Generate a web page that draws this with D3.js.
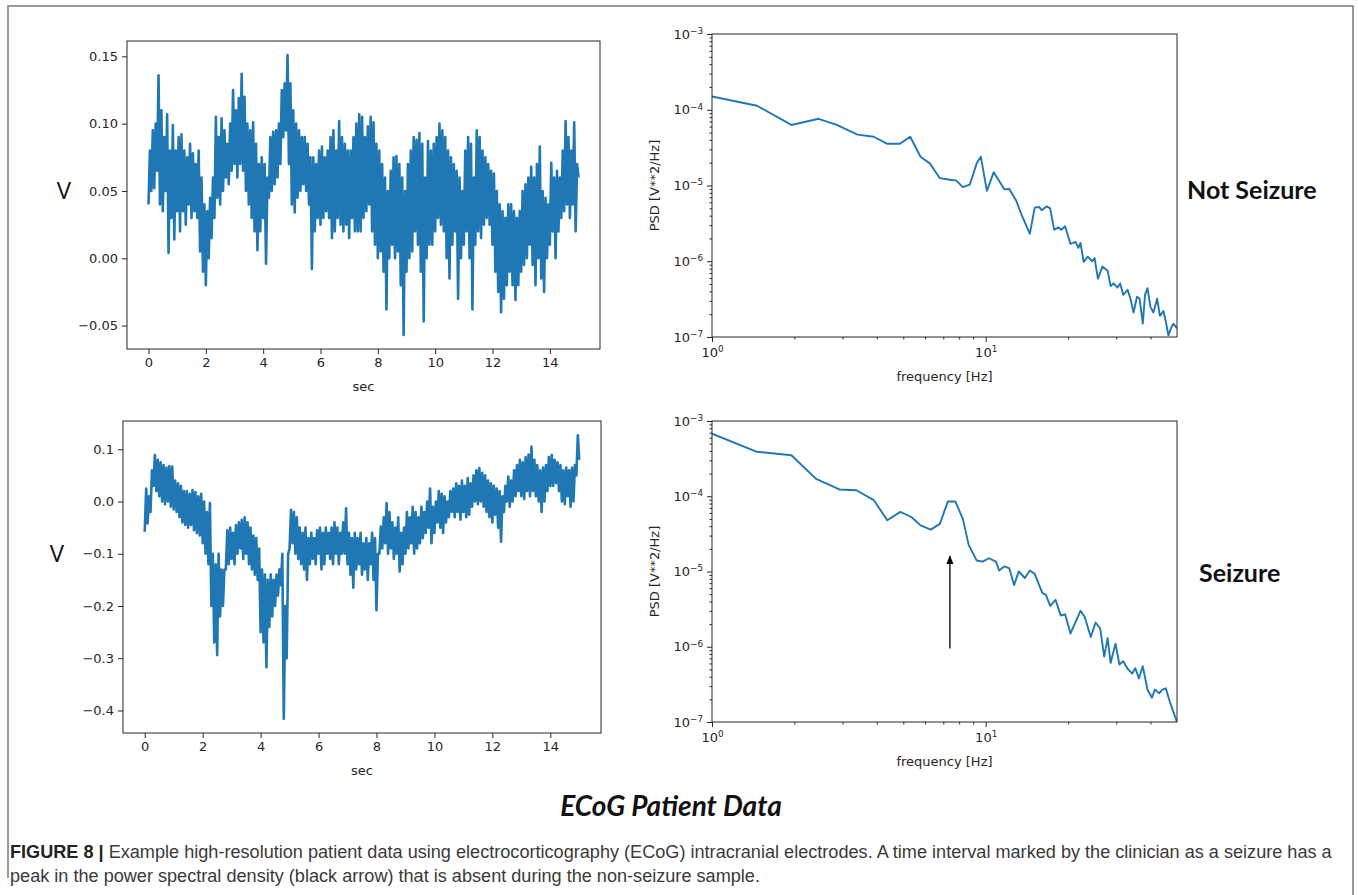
<!DOCTYPE html>
<html>
<head>
<meta charset="utf-8">
<script src="https://cdn.jsdelivr.net/npm/d3@7"></script>
<style>
  body { margin: 0; background: #fff; }
</style>
</head>
<body>
<script>
// traced signal: alternating low / high samples, 20 per second
var sampleRate = 20;

var notSeizureVolts = [
  .04,.08,.05,.095,.052,.1,.065,.136,.04,.11,.035,.09,.05,.107,.004,.08,.03,.099,.014,.08,
  .035,.09,.02,.092,.035,.08,.025,.075,.04,.085,.03,.078,.035,.07,.03,.08,.005,.06,-.01,.04,
  -.02,.035,0,.045,.015,.06,.03,.105,.045,.09,.04,.104,.05,.095,.06,.085,.055,.1,.065,.125,
  .07,.11,.06,.119,.07,.137,.065,.12,.05,.1,.04,.095,.03,.101,.02,.085,.006,.07,.02,.075,
  .03,.07,-.004,.06,.045,.09,.05,.094,.055,.095,.06,.1,.07,.125,.09,.13,.095,.151,.07,.13,
  .04,.11,.034,.1,.045,.095,.05,.09,.055,.09,.05,.085,.04,.075,-.008,.075,.02,.07,.03,.08,
  .025,.083,.03,.075,.035,.08,.03,.09,.015,.095,.02,.08,.03,.102,.025,.09,.02,.085,.025,.08,
  .015,.08,.03,.09,.02,.1,.02,.107,.02,.105,.03,.09,.035,.098,.04,.105,.02,.101,.01,.085,
  0,.08,.005,.07,-.01,.06,-.038,.05,0,.065,.01,.075,0,.076,.005,.07,-.02,.06,-.057,.05,
  -.01,.07,0,.08,.005,.09,.02,.088,.01,.093,-.01,.085,-.047,.06,0,.087,.01,.08,.01,.085,
  .02,.09,.03,.1,.025,.095,.02,.09,0,.08,-.015,.075,.01,.07,.02,.065,-.03,.06,0,.05,
  .01,.08,.02,.09,0,.085,-.038,.06,.01,.095,.02,.09,.015,.08,.025,.075,.03,.07,.025,.065,
  .01,.063,-.01,.05,-.025,.04,-.04,.035,-.03,.03,-.02,.04,-.01,.04,-.02,.035,-.031,.03,-.02,.035,
  -.01,.05,-.005,.055,0,.06,.01,.068,-.005,.06,-.02,.07,0,.083,-.015,.05,-.025,.045,0,.04,
  .01,.071,.02,.06,0,.065,.02,.06,.03,.08,.035,.102,.04,.09,.03,.08,.04,.101,.02,.07,
  .06
];

var seizureVolts = [
  -.058,.025,-.042,.01,-.02,.06,.03,.089,.02,.08,.01,.075,0,.07,-.005,.065,0,.068,-.01,.067,
  -.015,.04,-.02,.035,-.03,.03,-.04,.02,-.045,.02,-.05,.015,-.045,.022,-.055,.018,-.06,.01,-.065,.015,
  -.08,0,-.1,-.02,-.12,-.003,-.2,-.1,-.27,-.12,-.294,-.1,-.22,-.13,-.2,-.13,-.13,-.055,-.12,-.05,
  -.11,-.06,-.12,-.045,-.1,-.04,-.09,-.035,-.11,-.03,-.1,-.04,-.12,-.05,-.13,-.065,-.14,-.07,-.15,-.09,
  -.25,-.13,-.27,-.14,-.317,-.15,-.24,-.14,-.22,-.15,-.2,-.14,-.18,-.13,-.16,-.1,-.416,-.2,-.3,-.1,
  -.09,-.016,-.08,-.02,-.1,-.03,-.11,-.05,-.12,-.06,-.13,-.05,-.15,-.07,-.12,-.06,-.11,-.07,-.12,-.055,
  -.1,-.05,-.13,-.06,-.12,-.05,-.1,-.06,-.11,-.05,-.12,-.04,-.1,-.05,-.12,-.06,-.1,-.04,-.1,-.013,
  -.12,-.06,-.14,-.07,-.165,-.06,-.13,-.07,-.12,-.06,-.14,-.08,-.13,-.07,-.15,-.08,-.12,-.06,-.15,-.07,
  -.208,-.1,-.1,-.048,-.09,-.03,-.08,-.003,-.1,-.02,-.09,-.04,-.11,-.05,-.1,-.03,-.134,-.06,-.12,-.05,
  -.1,-.02,-.09,-.03,-.08,-.01,-.1,-.02,-.09,-.03,-.08,-.01,-.07,-.02,-.06,0,-.05,.025,-.08,-.01,
  -.06,0,-.04,.02,-.05,.015,-.06,.01,-.04,0,-.03,.02,-.02,.025,-.03,.035,-.02,.03,-.035,.04,
  -.02,.03,-.03,.045,-.025,.035,-.01,.05,0,.06,-.005,.064,0,.055,-.01,.05,-.02,.04,-.03,.035,
  -.04,.03,-.025,.025,-.05,.02,-.077,.01,-.02,.03,0,.048,-.01,.04,0,.06,.01,.07,.02,.08,
  .01,.075,.005,.085,.02,.09,.01,.105,.02,.08,.01,.07,0,.06,-.02,.065,0,.07,.02,.085,
  .03,.089,.03,.08,.035,.075,.02,.07,0,.06,-.005,.065,.01,.06,-.01,.065,0,.07,.05,.127,
  .08
];

var notSeizureFreq = [1,1.46,1.95,2.45,2.86,3.4,3.9,4.37,4.86,5.3,5.78,6.25,6.8,7.5,7.8,8.25,8.75,9.27,9.6,10.1,
  10.7,11.7,12.2,12.9,13.6,14.5,15.1,15.7,16.0,16.7,17.2,17.8,18.4,18.9,19.5,20.4,21.3,21.8,22.2,22.8,
  23.6,24.5,25.0,25.7,26.7,27.9,28.6,29.3,30.3,31.0,31.8,33,33.8,34.7,35.7,36.5,37.5,38.2,39,40,
  41,42.3,43.3,44.6,45.5,46.5,47.7,48.5,50];
var notSeizurePsd = [1.5e-4,1.13e-4,6.3e-5,7.6e-5,6.3e-5,4.7e-5,4.4e-5,3.55e-5,3.55e-5,4.4e-5,2.4e-5,1.96e-5,1.25e-5,1.18e-5,1.17e-5,9.5e-6,1.03e-5,1.96e-5,2.4e-5,8.5e-6,
  1.5e-5,8.9e-6,9e-6,6.4e-6,3.9e-6,2.3e-6,5.1e-6,5.2e-6,4.7e-6,5.3e-6,5e-6,2.6e-6,2.8e-6,2.6e-6,2.9e-6,1.7e-6,1.8e-6,1.5e-6,1.75e-6,9.8e-7,
  1.15e-6,1.0e-6,1.1e-6,5.9e-7,8.5e-7,7.5e-7,4.7e-7,5.1e-7,4.5e-7,5.1e-7,3.6e-7,4.2e-7,3.2e-7,2.1e-7,3.4e-7,3.2e-7,1.5e-7,3.6e-7,4.4e-7,2.5e-7,
  2.1e-7,3.2e-7,1.9e-7,2.2e-7,1.6e-7,1.05e-7,1.35e-7,1.5e-7,1.3e-7];

var seizureFreq = [1,1.46,1.95,2.4,2.92,3.37,3.9,4.37,4.88,5.35,5.78,6.3,6.8,7.27,7.75,8.25,8.67,9.27,9.75,10.27,
  10.9,11.2,11.7,12.2,12.7,13.2,13.9,14.5,15.1,16.1,16.6,17.2,18.0,18.8,19.5,20.4,22.2,23.0,24.2,25.2,
  26.2,27.1,27.9,28.6,29.8,30.8,31.8,33,34.3,35.2,36.3,37.5,39,40.5,41.5,43,44.2,45.5,47,48.2,50];
var seizurePsd = [6.8e-4,3.9e-4,3.5e-4,1.7e-4,1.23e-4,1.2e-4,8.9e-5,4.8e-5,6.2e-5,5.3e-5,4.1e-5,3.6e-5,4.3e-5,8.5e-5,8.5e-5,5.0e-5,2.24e-5,1.4e-5,1.35e-5,1.5e-5,
  1.35e-5,1.03e-5,1.17e-5,1.1e-5,6.6e-6,1.0e-5,8.2e-6,1.03e-5,9.3e-6,5.2e-6,4.9e-6,3.5e-6,4.2e-6,2.6e-6,2.7e-6,1.5e-6,3.0e-6,2.5e-6,1.35e-6,2.1e-6,
  1.75e-6,7.4e-7,1.3e-6,6.1e-7,1.1e-6,5.8e-7,6.4e-7,5.1e-7,4.4e-7,5.2e-7,3.8e-7,5.5e-7,2.7e-7,2.1e-7,2.7e-7,2.4e-7,2.7e-7,2.8e-7,1.9e-7,1.45e-7,
  1.0e-7];

var timeTicks = [0, 2, 4, 6, 8, 10, 12, 14];
var notSeizureVTicks = [-0.05, 0, 0.05, 0.10, 0.15];
var seizureVTicks = [-0.4, -0.3, -0.2, -0.1, 0, 0.1];
var freqRange = [1, 50];
var psdRange = [1e-7, 1e-3];
var freqTicks = [1, 10];
var freqMinor = [2, 3, 4, 5, 6, 7, 8, 9, 20, 30, 40];
var psdTicks = [1e-7, 1e-6, 1e-5, 1e-4, 1e-3];
var minorMult = [2, 3, 4, 5, 6, 7, 8, 9];
// arrow pointing at the seizure peak
var arrowFreq = 7.4, arrowFrom = 9.5e-7, arrowTo = 1.6e-5;

var blue = "#1f77b4";
var ink = "#262626";

var svg = d3.select("body").append("svg")
            .attr("width", 1358).attr("height", 895)
            .attr("font-family", "DejaVu Sans");

// outer figure border
svg.append("path")
   .attr("d", "M8,878V6H1353V895")
   .attr("fill", "none").attr("stroke", "#7a7a7a").attr("stroke-width", 1.5);

function pad(ext) {
  var m = (ext[1] - ext[0]) * 0.05;
  return [ext[0] - m, ext[1] + m];
}

function styleAxis(g) {
  g.attr("font-family", null).attr("font-size", null);
  g.select(".domain").remove();
  g.selectAll(".tick line").attr("stroke", ink);
  g.selectAll(".tick text").attr("fill", ink).attr("font-size", 13);
}

function frame(g, box) {
  g.append("rect")
   .attr("x", box.x0).attr("y", box.y0)
   .attr("width", box.x1 - box.x0).attr("height", box.y1 - box.y0)
   .attr("fill", "none").attr("stroke", ink).attr("stroke-width", 1);
}

function timePanel(box, volts, vTicks, vFmt) {
  var times = volts.map(function(d, i){ return i / sampleRate; });
  var x = d3.scaleLinear().domain(pad(d3.extent(times))).range([box.x0, box.x1]);
  var y = d3.scaleLinear().domain(pad(d3.extent(volts))).range([box.y1, box.y0]);
  var g = svg.append("g");

  var line = d3.line()
               .x(function(d, i){ return x(times[i]); })
               .y(function(d){ return y(d); });

  g.append("path")
   .attr("fill", "none")
   .attr("stroke", blue)
   .attr("stroke-width", 2.6)
   .attr("stroke-linejoin", "round")
   .attr("d", line(volts));

  frame(g, box);

  g.append("g").attr("transform", "translate(0," + box.y1 + ")")
   .call(d3.axisBottom(x).tickValues(timeTicks).tickSize(5).tickPadding(4).tickFormat(d3.format("d")))
   .call(styleAxis);
  g.append("g").attr("transform", "translate(" + box.x0 + ",0)")
   .call(d3.axisLeft(y).tickValues(vTicks).tickSize(5).tickPadding(4).tickFormat(d3.format(vFmt)))
   .call(styleAxis);

  g.append("text").attr("x", (box.x0 + box.x1) / 2).attr("y", box.y1 + 42)
   .attr("text-anchor", "middle").attr("font-size", 13).attr("fill", ink).text("sec");
  return { g: g, x: x, y: y };
}

function powerLabels(g) {
  g.selectAll(".tick text").each(function(d){
    var e = Math.round(Math.log10(d));
    var t = d3.select(this).text("10");
    t.append("tspan").attr("dy", "-0.55em").attr("font-size", "0.68em")
     .text(e < 0 ? "\u2212" + (-e) : String(e));
  });
}

function psdPanel(box, freq, psd, id) {
  var x = d3.scaleLog().domain(freqRange).range([box.x0, box.x1]);
  var y = d3.scaleLog().domain(psdRange).range([box.y1, box.y0]);
  var g = svg.append("g");

  g.append("clipPath").attr("id", id).append("rect")
   .attr("x", box.x0).attr("y", box.y0)
   .attr("width", box.x1 - box.x0).attr("height", box.y1 - box.y0);

  var line = d3.line()
               .x(function(d, i){ return x(freq[i]); })
               .y(function(d){ return y(d); });

  g.append("path")
   .attr("clip-path", "url(#" + id + ")")
   .attr("fill", "none")
   .attr("stroke", blue)
   .attr("stroke-width", 1.9)
   .attr("stroke-linejoin", "round")
   .attr("d", line(psd));

  frame(g, box);

  var yMinor = [];
  psdTicks.slice(0, -1).forEach(function(p){
    minorMult.forEach(function(m){ yMinor.push(p * m); });
  });

  g.append("g").attr("transform", "translate(0," + box.y1 + ")")
   .call(d3.axisBottom(x).tickValues(freqMinor).tickSize(2.5).tickFormat(""))
   .call(styleAxis);
  g.append("g").attr("transform", "translate(" + box.x0 + ",0)")
   .call(d3.axisLeft(y).tickValues(yMinor).tickSize(2.5).tickFormat(""))
   .call(styleAxis);

  g.append("g").attr("transform", "translate(0," + box.y1 + ")")
   .call(d3.axisBottom(x).tickValues(freqTicks).tickSize(5).tickPadding(6))
   .call(styleAxis).call(powerLabels);
  g.append("g").attr("transform", "translate(" + box.x0 + ",0)")
   .call(d3.axisLeft(y).tickValues(psdTicks).tickSize(5).tickPadding(4))
   .call(styleAxis).call(powerLabels);

  g.append("text").attr("x", (box.x0 + box.x1) / 2).attr("y", box.y1 + 44)
   .attr("text-anchor", "middle").attr("font-size", 13).attr("fill", ink).text("frequency [Hz]");
  g.append("text")
   .attr("transform", "translate(" + (box.x0 - 53) + "," + ((box.y0 + box.y1) / 2) + ") rotate(-90)")
   .attr("text-anchor", "middle").attr("font-size", 13).attr("fill", ink).text("PSD [V**2/Hz]");
  return { g: g, x: x, y: y };
}

var topTime = timePanel({ x0: 127, x1: 600, y0: 41, y1: 349 }, notSeizureVolts, notSeizureVTicks, ".2f");
var botTime = timePanel({ x0: 123, x1: 601, y0: 421, y1: 733 }, seizureVolts, seizureVTicks, ".1f");
var topPsd = psdPanel({ x0: 712, x1: 1177, y0: 34, y1: 337 }, notSeizureFreq, notSeizurePsd, "clipTop");
var botPsd = psdPanel({ x0: 712, x1: 1177, y0: 421, y1: 722 }, seizureFreq, seizurePsd, "clipBot");

// "V" axis names
svg.append("text").attr("x", 64).attr("y", 199).attr("text-anchor", "middle")
   .attr("font-family", "Open Sans").attr("font-size", 24).attr("fill", "#111").text("V");
svg.append("text").attr("x", 57).attr("y", 562).attr("text-anchor", "middle")
   .attr("font-family", "Open Sans").attr("font-size", 24).attr("fill", "#111").text("V");

// arrow at the seizure peak
svg.append("defs").append("marker")
   .attr("id", "head").attr("viewBox", "0 0 10 10").attr("refX", 9).attr("refY", 5)
   .attr("markerWidth", 7).attr("markerHeight", 7).attr("orient", "auto")
   .append("path").attr("d", "M0,1L10,5L0,9Z").attr("fill", "#000");
botPsd.g.append("line")
   .attr("x1", botPsd.x(arrowFreq)).attr("x2", botPsd.x(arrowFreq))
   .attr("y1", botPsd.y(arrowFrom)).attr("y2", botPsd.y(arrowTo))
   .attr("stroke", "#000").attr("stroke-width", 1.3).attr("marker-end", "url(#head)");

// panel titles
svg.append("text").attr("x", 1187).attr("y", 199)
   .attr("font-family", "Lato").attr("font-weight", 700).attr("font-size", 25).attr("fill", "#111").text("Not Seizure");
svg.append("text").attr("x", 1199).attr("y", 582)
   .attr("font-family", "Lato").attr("font-weight", 700).attr("font-size", 25).attr("fill", "#111").text("Seizure");
svg.append("text").attr("x", 671).attr("y", 816).attr("text-anchor", "middle")
   .attr("font-family", "Lato").attr("font-weight", 700).attr("font-style", "italic")
   .attr("font-size", 28).attr("fill", "#111").text("ECoG Patient Data");

// caption
var cap1 = svg.append("text").attr("x", 10).attr("y", 858)
   .attr("font-family", "Liberation Sans").attr("font-size", 16).attr("fill", "#3a3a3a");
cap1.append("tspan").attr("font-weight", 700).attr("fill", "#222").text("FIGURE 8 | ");
cap1.append("tspan").text("Example high-resolution patient data using electrocorticography (ECoG) intracranial electrodes. A time interval marked by the clinician as a seizure has a");
var cap2 = svg.append("text").attr("x", 10).attr("y", 882)
   .attr("font-family", "Liberation Sans").attr("font-size", 16).attr("fill", "#3a3a3a")
   .text("peak in the power spectral density (black arrow) that is absent during the non-seizure sample.");
var fit = 16 * 1322 / cap1.node().getComputedTextLength();
cap1.attr("font-size", fit);
cap2.attr("font-size", fit);
</script>
</body>
</html>
